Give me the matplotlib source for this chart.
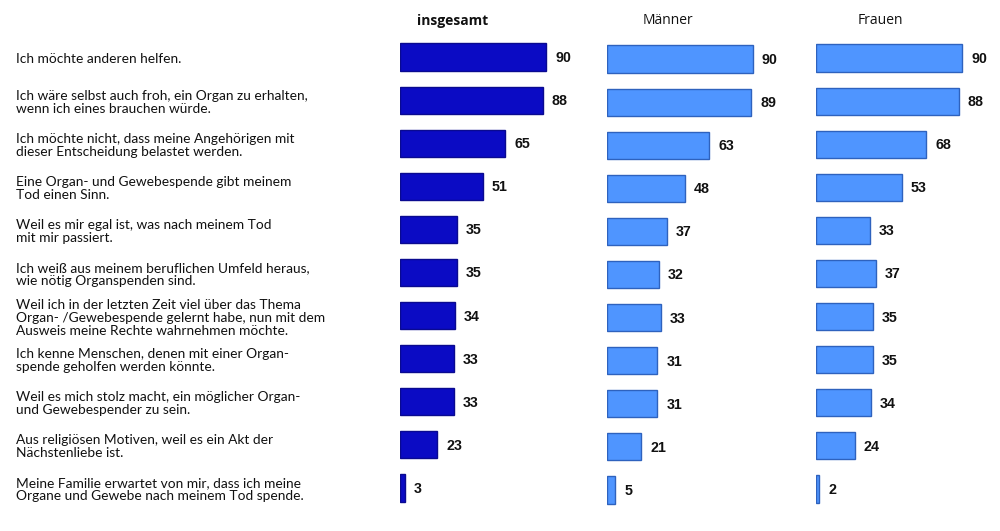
import matplotlib
matplotlib.use("Agg")
import matplotlib.pyplot as plt

labels = [
    "Ich möchte anderen helfen.",
    "Ich wäre selbst auch froh, ein Organ zu erhalten,\nwenn ich eines brauchen würde.",
    "Ich möchte nicht, dass meine Angehörigen mit\ndieser Entscheidung belastet werden.",
    "Eine Organ- und Gewebespende gibt meinem\nTod einen Sinn.",
    "Weil es mir egal ist, was nach meinem Tod\nmit mir passiert.",
    "Ich weiß aus meinem beruflichen Umfeld heraus,\nwie nötig Organspenden sind.",
    "Weil ich in der letzten Zeit viel über das Thema\nOrgan- /Gewebespende gelernt habe, nun mit dem\nAusweis meine Rechte wahrnehmen möchte.",
    "Ich kenne Menschen, denen mit einer Organ-\nspende geholfen werden könnte.",
    "Weil es mich stolz macht, ein möglicher Organ-\nund Gewebespender zu sein.",
    "Aus religiösen Motiven, weil es ein Akt der\nNächstenliebe ist.",
    "Meine Familie erwartet von mir, dass ich meine\nOrgane und Gewebe nach meinem Tod spende.",
]
insgesamt = [90, 88, 65, 51, 35, 35, 34, 33, 33, 23, 3]
maenner = [90, 89, 63, 48, 37, 32, 33, 31, 31, 21, 5]
frauen = [90, 88, 68, 53, 33, 37, 35, 35, 34, 24, 2]
titles = ["insgesamt", "Männer", "Frauen"]

W, H = 1000, 531
fig = plt.figure(figsize=(W / 100, H / 100), dpi=100)

px_per_unit = 146 / 90.0
ax_w_px = 200
spacing = 43.1
panels = [
    (insgesamt, 400, 57, "#0B0BC4", "#0A0A90", "bold", 453),
    (maenner, 607, 59, "#4F95FF", "#2E62BE", "normal", 668),
    (frauen, 816, 58, "#4F95FF", "#2E62BE", "normal", 880),
]
n = len(labels)
for (vals, x0, yc0, fc, ec, tw, tx), title in zip(panels, titles):
    top = yc0 - spacing / 2
    height = spacing * n
    ax = fig.add_axes([x0 / W, 1 - (top + height) / H, ax_w_px / W, height / H])
    ypos = list(range(n))
    ax.barh(ypos, vals, height=0.63, color=fc, edgecolor=ec, linewidth=1.0)
    ax.set_xlim(0, ax_w_px / px_per_unit)
    ax.set_ylim(n - 0.5, -0.5)
    ax.axis("off")
    for y, v in zip(ypos, vals):
        ax.annotate(str(v), (v, y), xytext=(9, -1), textcoords="offset pixels",
                    ha="left", va="center", fontsize=10.3, fontweight="bold",
                    family="Liberation Sans", color="#111111")
    fig.text(tx / W, 1 - 21 / H, title, ha="center", va="center", fontsize=10,
             fontweight=tw, family="Open Sans", color="#111111")

    if title == "insgesamt":
        for i, lab in enumerate(labels):
            yc = yc0 + spacing * i + 2
            fig.text(16 / W, 1 - yc / H, lab, ha="left", va="center",
                     fontsize=9.9, family="Lato", linespacing=1.1,
                     color="#111111")

fig.savefig("out.png", dpi=100, facecolor="white")
